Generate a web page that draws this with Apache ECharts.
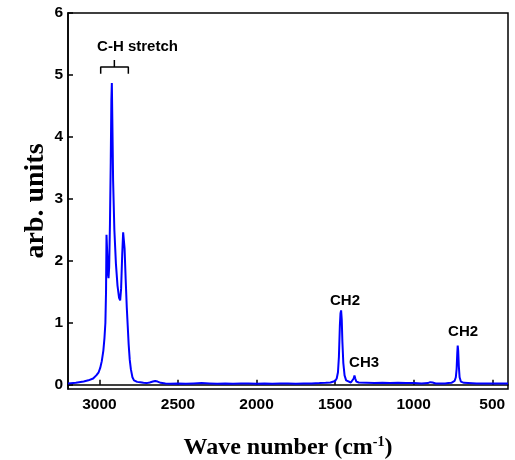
<!DOCTYPE html>
<html lang="en">
<head>
    <meta charset="UTF-8">
    <title>IR spectrum</title>
    <script src="https://cdn.jsdelivr.net/npm/echarts@6/dist/echarts.min.js"></script>
    <style type="text/css">
        *{margin:0;padding:0;}
        body{background:#fff;}
        #main{width:515px;height:460px;}
    </style>
</head>
<body>
<div id="main"></div>
<script type="text/javascript">
    // spectrum
    var waveNumber = [
        3200, 3150, 3100, 3070, 3040, 3020, 3005, 2995, 2985, 2975, 2968, 2962, 2958, 2955,
        2950, 2946, 2942, 2938, 2933, 2928, 2924, 2921, 2918, 2913, 2905, 2895, 2885, 2875,
        2868, 2862, 2855, 2849, 2846, 2840, 2833, 2826, 2820, 2814, 2807, 2800, 2790, 2780,
        2760, 2740, 2720, 2700, 2680, 2660, 2645, 2630, 2610, 2580, 2550, 2500, 2450, 2400,
        2350, 2300, 2250, 2200, 2150, 2100, 2050, 2000, 1950, 1900, 1850, 1800, 1750, 1700,
        1650, 1600, 1560, 1530, 1500, 1490, 1482, 1476, 1470, 1466, 1462, 1458, 1454, 1448,
        1440, 1430, 1420, 1400, 1390, 1382, 1377, 1372, 1365, 1350, 1300, 1250, 1200, 1150,
        1100, 1050, 1000, 950, 910, 895, 888, 880, 860, 800, 780, 760, 740, 732, 727, 723,
        720, 717, 713, 708, 700, 680, 600, 500, 400
    ];
    var intensity = [
        0.02, 0.03, 0.05, 0.07, 0.10, 0.15, 0.20, 0.27, 0.38, 0.55, 0.75, 1.00, 1.50, 2.42,
        2.10, 1.80, 1.72, 1.90, 2.60, 3.60, 4.60, 4.87, 4.30, 3.30, 2.50, 1.95, 1.60, 1.40,
        1.36, 1.55, 2.10, 2.46, 2.48, 2.20, 1.70, 1.25, 0.95, 0.65, 0.40, 0.25, 0.12, 0.07,
        0.045, 0.04, 0.03, 0.025, 0.035, 0.05, 0.06, 0.05, 0.03, 0.02, 0.015, 0.02, 0.015, 0.02,
        0.025, 0.02, 0.015, 0.02, 0.015, 0.02, 0.02, 0.015, 0.02, 0.015, 0.02, 0.02, 0.015, 0.02,
        0.02, 0.025, 0.03, 0.035, 0.06, 0.10, 0.20, 0.45, 0.95, 1.15, 1.20, 1.05, 0.70, 0.35,
        0.15, 0.07, 0.045, 0.035, 0.05, 0.10, 0.15, 0.10, 0.05, 0.035, 0.03, 0.025, 0.03, 0.025,
        0.03, 0.025, 0.025, 0.02, 0.025, 0.04, 0.055, 0.035, 0.02, 0.02, 0.025, 0.03, 0.06, 0.12, 0.25, 0.50,
        0.63, 0.55, 0.30, 0.12, 0.05, 0.03, 0.02, 0.02, 0.02
    ];

    // axis ticks
    var xTicks = [500, 1000, 1500, 2000, 2500, 3000];
    var yTicks = [0, 1, 2, 3, 4, 5, 6];

    // peak labels
    var noteText = ['C-H stretch', 'CH2', 'CH3', 'CH2'];
    var noteX = [3015, 1437, 1316, 686];
    var noteY = [5.46, 1.36, 0.35, 0.85];
    var noteAlign = ['left', 'center', 'center', 'center'];

    // bracket over the C-H stretch band
    var bracketX = [2992, 2992, 2905, 2905, 2905, 2816, 2816];
    var bracketY = [5.02, 5.13, 5.13, 5.24, 5.13, 5.13, 5.02];

    function pairs(xs, ys) {
        var out = [];
        for (var i = 0; i < xs.length; i++) {
            out.push([xs[i], ys[i]]);
        }
        return out;
    }

    var notes = [];
    for (var i = 0; i < noteText.length; i++) {
        notes.push({
            name: noteText[i],
            value: [noteX[i], noteY[i]],
            label: {align: noteAlign[i]}
        });
    }

    var myChart = echarts.init(document.getElementById('main'));
    var tickFont = {
        color: '#000',
        fontSize: 15.5,
        fontWeight: 'bold',
        fontFamily: 'Liberation Sans, Arial, sans-serif',
        formatter: function (v) { return String(v); }
    };
    var serif = 'Liberation Serif, Times New Roman, serif';
    var option = {
        animation: false,
        backgroundColor: '#fff',
        grid: {
            left: 68,
            right: 7,
            top: 13,
            bottom: 71,
            outerBoundsMode: 'none',
            show: true,
            borderColor: '#000',
            borderWidth: 1.5
        },
        xAxis: {
            type: 'value',
            min: 400,
            max: 3200,
            inverse: true,
            name: '{a|Wave number (cm}{b|-1}{a|)}',
            nameLocation: 'middle',
            nameGap: 46,
            nameTextStyle: {
                rich: {
                    a: {fontSize: 24, fontWeight: 'bold', fontFamily: serif, color: '#000'},
                    b: {
                        fontSize: 14,
                        fontWeight: 'bold',
                        fontFamily: serif,
                        color: '#000',
                        verticalAlign: 'top',
                        padding: [0, 0, 12, 0]
                    }
                }
            },
            axisLine: {lineStyle: {color: '#000', width: 1.5}},
            axisTick: {inside: true, length: 5, lineStyle: {color: '#000', width: 1.5}, customValues: xTicks},
            axisLabel: Object.assign({margin: 8, customValues: xTicks}, tickFont),
            splitLine: {show: false}
        },
        yAxis: {
            type: 'value',
            min: -0.07,
            max: 6,
            name: 'arb. units',
            nameLocation: 'middle',
            nameGap: 18,
            nameMoveOverlap: false,
            nameTextStyle: {fontSize: 28, fontWeight: 'bold', fontFamily: serif, color: '#000'},
            axisLine: {lineStyle: {color: '#000', width: 1.5}},
            axisTick: {inside: true, length: 5, lineStyle: {color: '#000', width: 1.5}, customValues: yTicks},
            axisLabel: Object.assign({margin: 5, customValues: yTicks}, tickFont),
            splitLine: {show: false}
        },
        series: [{
            name: 'spectrum',
            type: 'line',
            data: pairs(waveNumber, intensity),
            symbol: 'none',
            lineStyle: {color: '#0000ff', width: 2},
            z: 3
        }, {
            name: 'bracket',
            type: 'line',
            data: pairs(bracketX, bracketY),
            symbol: 'none',
            lineStyle: {color: '#000', width: 1.5},
            silent: true
        }, {
            name: 'notes',
            type: 'scatter',
            data: notes,
            symbolSize: 0,
            silent: true,
            itemStyle: {opacity: 1},
            label: {
                show: true,
                position: 'inside',
                formatter: '{b}',
                color: '#000',
                fontSize: 15,
                fontWeight: 'bold',
                fontFamily: 'Liberation Sans, Arial, sans-serif'
            }
        }]
    };
    myChart.setOption(option);
</script>
</body>
</html>
